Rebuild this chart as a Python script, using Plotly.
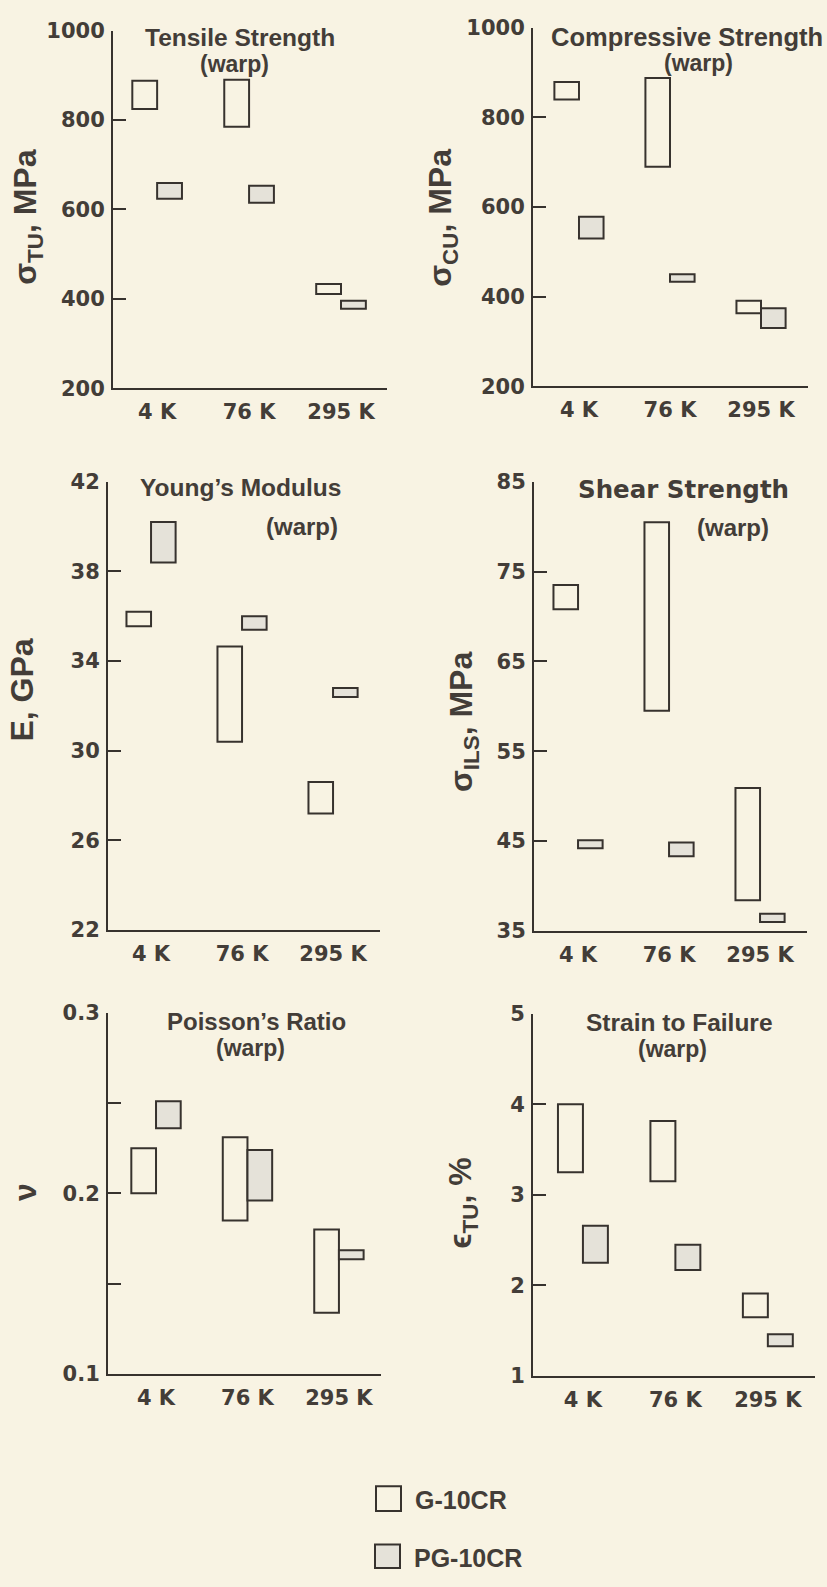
import plotly.graph_objects as go

# Test temperatures (category positions 0, 1, 2 on each x axis)
temps = ["4 K", "76 K", "295 K"]
temp_pos = [0, 1, 2]

# Property ranges (low / high) for G-10CR and PG-10CR, warp direction
tensile_g_low = [825, 785, 411]
tensile_g_high = [888, 890, 433]
tensile_pg_low = [624, 615, 378]
tensile_pg_high = [659, 653, 396]

compressive_g_low = [840, 690, 363]
compressive_g_high = [879, 888, 391]
compressive_pg_low = [530, 433, 330]
compressive_pg_high = [578, 450, 374]

modulus_g_low = [35.55, 30.4, 27.2]
modulus_g_high = [36.2, 34.65, 28.6]
modulus_pg_low = [38.4, 35.4, 32.4]
modulus_pg_high = [40.2, 36.0, 32.8]

shear_g_low = [70.8, 59.5, 38.4]
shear_g_high = [73.5, 80.5, 50.9]
shear_pg_low = [44.2, 43.3, 36.0]
shear_pg_high = [45.1, 44.85, 36.9]

poisson_g_low = [0.200, 0.185, 0.134]
poisson_g_high = [0.225, 0.231, 0.180]
poisson_pg_low = [0.236, 0.196, 0.1635]
poisson_pg_high = [0.251, 0.224, 0.1685]

strain_g_low = [3.25, 3.15, 1.65]
strain_g_high = [4.0, 3.815, 1.91]
strain_pg_low = [2.25, 2.17, 1.33]
strain_pg_high = [2.66, 2.45, 1.46]

# Y tick values per panel (unlabelled minor ticks only on the Poisson panel)
tensile_ticks = [200, 400, 600, 800, 1000]
compressive_ticks = [200, 400, 600, 800, 1000]
modulus_ticks = [22, 26, 30, 34, 38, 42]
shear_ticks = [35, 45, 55, 65, 75, 85]
poisson_ticks = [0.1, 0.2, 0.3]
poisson_minor_ticks = [0.15, 0.25]
strain_ticks = [1, 2, 3, 4, 5]

W, H = 827, 1587
BG = "#f8f3e3"
INK = "#37322e"
TXT = "#433d38"
PG_FILL = "#e5e2d9"
BOX_W = 0.27

TITLE_FONT = "Liberation Sans, Arial, sans-serif"
NUM_FONT = "DejaVu Sans, sans-serif"

panels = [
    dict(data=(tensile_g_low, tensile_g_high, tensile_pg_low, tensile_pg_high),
         ticks=tensile_ticks, minor=None, yr=[200, 1000], xr=[-0.48, 2.5],
         px=(113, 387), py=(19, 382)),
    dict(data=(compressive_g_low, compressive_g_high, compressive_pg_low, compressive_pg_high),
         ticks=compressive_ticks, minor=None, yr=[200, 1000], xr=[-0.505, 2.516],
         px=(533, 808), py=(16, 380)),
    dict(data=(modulus_g_low, modulus_g_high, modulus_pg_low, modulus_pg_high),
         ticks=modulus_ticks, minor=None, yr=[22, 42], xr=[-0.473, 2.516],
         px=(108, 380), py=(477, 932)),
    dict(data=(shear_g_low, shear_g_high, shear_pg_low, shear_pg_high),
         ticks=shear_ticks, minor=None, yr=[35, 85], xr=[-0.484, 2.516],
         px=(534, 807), py=(477, 933)),
    dict(data=(poisson_g_low, poisson_g_high, poisson_pg_low, poisson_pg_high),
         ticks=poisson_ticks, minor=poisson_minor_ticks, yr=[0.1, 0.3], xr=[-0.525, 2.46],
         px=(108, 381), py=(1016, 1383)),
    dict(data=(strain_g_low, strain_g_high, strain_pg_low, strain_pg_high),
         ticks=strain_ticks, minor=None, yr=[1, 5], xr=[-0.54, 2.51],
         px=(533, 815), py=(1017, 1385)),
]

fig = go.Figure()
layout = {}

for i, p in enumerate(panels):
    n = "" if i == 0 else str(i + 1)
    xa, ya = "x" + n, "y" + n
    g_lo, g_hi, pg_lo, pg_hi = p["data"]

    fig.add_trace(go.Bar(
        x=temp_pos, base=g_lo, y=[h - l for l, h in zip(g_lo, g_hi)],
        width=BOX_W, offset=-BOX_W, xaxis=xa, yaxis=ya,
        marker=dict(color=BG, line=dict(color=INK, width=2)),
        name="G-10CR", showlegend=False, hoverinfo="skip"))
    fig.add_trace(go.Bar(
        x=temp_pos, base=pg_lo, y=[h - l for l, h in zip(pg_lo, pg_hi)],
        width=BOX_W, offset=0, xaxis=xa, yaxis=ya,
        marker=dict(color=PG_FILL, line=dict(color=INK, width=2)),
        name="PG-10CR", showlegend=False, hoverinfo="skip"))

    x0, x1 = p["px"]
    y0, y1 = p["py"]
    layout["xaxis" + n] = dict(
        domain=[x0 / W, x1 / W], range=p["xr"], anchor=ya,
        tickvals=temp_pos, ticktext=temps, ticks="", showgrid=False, zeroline=False,
        showline=True, linewidth=2, linecolor=INK, ticklabelstandoff=4,
        tickfont=dict(family=NUM_FONT, size=21, color=TXT, weight="bold"),
        fixedrange=True)
    ya_cfg = dict(
        domain=[1 - y1 / H, 1 - y0 / H], range=p["yr"], anchor=xa,
        tickvals=p["ticks"], ticks="inside", ticklen=13, tickwidth=2, tickcolor=INK,
        showgrid=False, zeroline=False, showline=True, linewidth=2, linecolor=INK,
        tickfont=dict(family=NUM_FONT, size=21, color=TXT, weight="bold"),
        ticklabelstandoff=2, fixedrange=True)
    if p["minor"] is not None:
        ya_cfg["minor"] = dict(tickvals=p["minor"], ticks="inside", ticklen=13,
                               tickwidth=2, tickcolor=INK, showgrid=False)
    layout["yaxis" + n] = ya_cfg

annotations = []


def ann(text, cx, cy, size, family=TITLE_FONT, angle=0, xanchor="center"):
    annotations.append(dict(
        text=text, x=cx / W, y=1 - cy / H, xref="paper", yref="paper",
        showarrow=False, xanchor=xanchor, yanchor="middle", textangle=angle,
        font=dict(family=family, size=size, color=TXT, weight="bold")))


# Panel titles
ann("Tensile Strength", 240, 26, 24.5)
ann("(warp)", 234, 53, 23)
ann("Compressive Strength", 687, 25, 25.5)
ann("(warp)", 698, 52, 23)
ann("Young’s Modulus", 240, 483, 24.5)
ann("(warp)", 302, 522, 24)
ann("Shear Strength", 683, 485, 24.5, family=NUM_FONT)
ann("(warp)", 733, 523, 24)
ann("Poisson’s Ratio", 256, 1025, 24)
ann("(warp)", 250, 1052, 23)
ann("Strain to Failure", 679, 1026, 24.5)
ann("(warp)", 672, 1053, 23)

# Y axis titles
ann("σ<sub>TU</sub>, MPa", 28, 208, 32, angle=-90)
ann("σ<sub>CU</sub>, MPa", 443, 209, 32, angle=-90)
ann("E, GPa", 22, 689, 32, angle=-90)
ann("σ<sub>ILS</sub>, MPa", 463, 721, 32, angle=-90)
ann("ν", 25, 1198, 32, angle=-90)
ann("ϵ<sub>TU</sub>, %", 463, 1210, 32, angle=-90)

# Legend keys
shapes = [
    dict(type="rect", xref="paper", yref="paper",
         x0=376 / W, x1=401 / W, y0=1 - 1522 / H, y1=1 - 1497 / H,
         fillcolor=BG, line=dict(color=INK, width=2)),
    dict(type="rect", xref="paper", yref="paper",
         x0=375 / W, x1=400 / W, y0=1 - 1580 / H, y1=1 - 1556 / H,
         fillcolor=PG_FILL, line=dict(color=INK, width=2)),
]
ann("G-10CR", 413, 1511, 25, xanchor="left")
ann("PG-10CR", 412, 1570, 25, xanchor="left")

fig.update_layout(
    **layout,
    width=W, height=H, margin=dict(l=0, r=0, t=0, b=0),
    paper_bgcolor=BG, plot_bgcolor=BG, barmode="overlay",
    showlegend=False, annotations=annotations, shapes=shapes,
)

fig.write_html("out.html", config={"displayModeBar": False})
